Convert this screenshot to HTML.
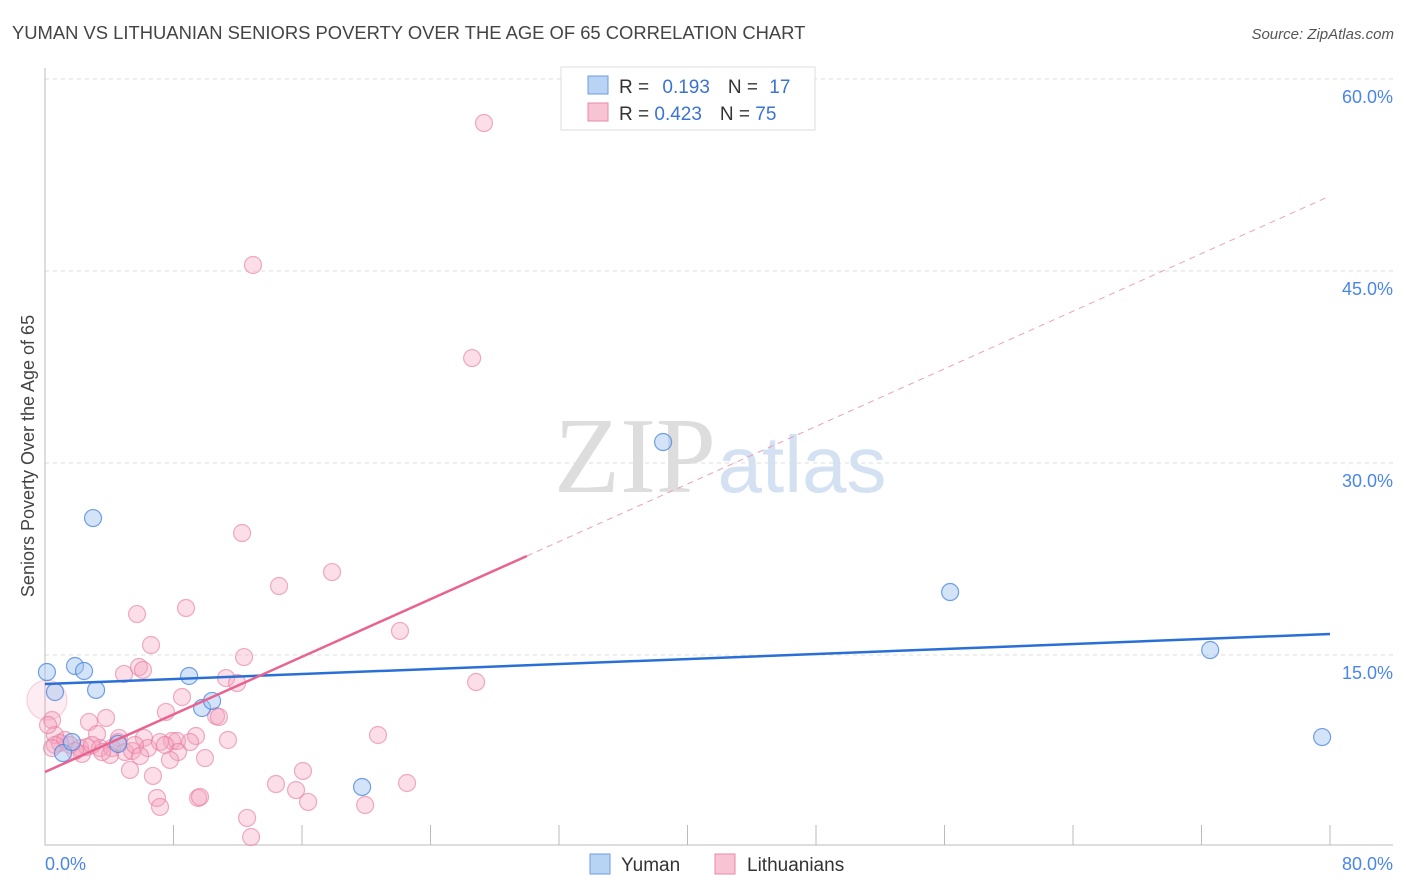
<!DOCTYPE html>
<html><head><meta charset="utf-8"><style>
body{margin:0;background:#fff;font-family:"Liberation Sans",sans-serif;}
svg{display:block}
</style></head><body>
<svg id="c" width="1406" height="892">
<text x="12" y="39" font-size="18.4" fill="#444">YUMAN VS LITHUANIAN SENIORS POVERTY OVER THE AGE OF 65 CORRELATION CHART</text>
<text x="1394" y="39" font-size="15" fill="#555" font-style="italic" text-anchor="end">Source: ZipAtlas.com</text>
<text x="635" y="492" font-size="108" fill="#ddd" font-family="Liberation Serif" text-anchor="middle">ZIP</text>
<text x="802" y="492" font-size="80" fill="#d3e1f3" text-anchor="middle">atlas</text>
<text transform="translate(34,456) rotate(-90)" font-size="18" fill="#444" text-anchor="middle">Seniors Poverty Over the Age of 65</text>
<g id="grid"></g><g id="marks"></g>
<g>
<rect x="561" y="67" width="254" height="63" fill="#fff" stroke="#ddd"/>
<rect x="588" y="76" width="20" height="18" fill="#b9d3f5" stroke="#6c9de0"/>
<rect x="588" y="103" width="20" height="18" fill="#f8c3d3" stroke="#e88aa8"/>
<text x="619" y="93" font-size="19" fill="#333">R = <tspan fill="#3b73d4" dx="8">0.193</tspan><tspan dx="18" fill="#333">N = </tspan><tspan fill="#3b73d4" dx="6">17</tspan></text>
<text x="619" y="120" font-size="19" fill="#333">R = <tspan fill="#3b73d4">0.423</tspan><tspan dx="18" fill="#333">N = </tspan><tspan fill="#3b73d4">75</tspan></text>
</g>
<g>
<rect x="590" y="854" width="20" height="20" fill="#b9d3f5" stroke="#6c9de0"/>
<text x="621" y="871" font-size="19" fill="#333">Yuman</text>
<rect x="715" y="854" width="20" height="20" fill="#f8c3d3" stroke="#e88aa8"/>
<text x="747" y="871" font-size="19" fill="#333">Lithuanians</text>
</g>
</svg>
<script>
const yTicks=[15,30,45,60];
const yTickLabels=["15.0%","30.0%","45.0%","60.0%"];
const xTickLabels=["0.0%","80.0%"];
const yumanX=[0.12,0.62,1.87,2.43,3.18,2.99,8.97,9.78,10.40,1.12,1.68,4.55,19.74,38.48,56.35,72.54,79.51];
const yumanY=[13.67,12.11,14.14,13.75,12.27,25.70,13.36,10.86,11.41,7.34,8.20,8.05,4.69,31.64,19.92,15.39,8.59];
const lithX=[27.33,12.95,26.59,12.27,17.87,14.57,5.73,8.78,6.60,22.10,12.39,5.85,6.10,4.92,11.27,11.96,26.84,8.53,7.53,10.65,10.83,3.80,2.74,0.44,0.12,0.62,3.24,4.61,6.16,9.40,7.91,8.22,9.03,11.39,20.73,1.25,1.56,2.18,2.62,3.42,4.17,4.98,6.41,8.28,5.42,4.05,9.96,7.78,2.30,0.93,1.87,5.29,6.72,16.06,22.54,14.38,15.63,6.97,9.53,9.65,16.38,19.93,7.16,12.58,12.83,0.62,4.55,5.60,7.16,7.47,2.93,3.55,0.19,0.44,5.92];
const lithY=[56.56,45.47,38.20,24.53,21.48,20.39,18.20,18.67,15.78,16.88,14.84,14.06,13.83,13.52,13.20,12.81,12.89,11.72,10.55,10.23,10.16,10.08,9.77,9.92,11.48,8.75,8.83,8.52,8.52,8.67,8.28,8.28,8.20,8.36,8.75,8.36,7.97,7.73,7.81,7.73,7.73,7.42,7.73,7.42,7.50,7.19,6.95,6.80,7.27,8.13,7.50,6.02,5.55,5.94,5.00,4.92,4.45,3.83,3.83,3.91,3.52,3.28,3.13,2.27,0.78,7.97,8.20,7.97,8.20,7.97,7.97,7.42,9.53,7.73,7.11];
const yumanTrend=[12.73,16.64];
const lithTrend=[5.86,50.86];
const NS="http://www.w3.org/2000/svg";
const X=v=>45+v/80*1285, Y=v=>847-v/15*192;
function mk(t,a,p){const e=document.createElementNS(NS,t);for(const k in a)e.setAttribute(k,a[k]);p.appendChild(e);return e;}
const g=document.getElementById('grid'), m=document.getElementById('marks');
yTicks.forEach((t,i)=>{
 const l=mk('line',{x1:45,x2:1393,y1:Y(t),y2:Y(t),stroke:'#ddd','stroke-dasharray':'4,4'},g);
 
 
 const tx=mk('text',{x:1393,y:Y(t)+24,'font-size':18,fill:'#4a86e8','text-anchor':'end'},g);
 tx.textContent=yTickLabels[i];
 
 
});
const ax=mk('path',{d:'M45,68V845H1393',fill:'none',stroke:'#bbb'},g);


for(let i=0;i<=10;i++){const t=mk('line',{x1:X(i*8),x2:X(i*8),y1:825,y2:845,stroke:'#bbb'},g);
 
 }
[[0,'start',45],[80,'end',1393]].forEach((d,i)=>{const t=mk('text',{x:d[2],y:870,'font-size':18,fill:'#4a86e8','text-anchor':d[1]},g);t.textContent=xTickLabels[i];
 
 });
lithX.forEach((x,i)=>{const big=i==24;const c=mk('circle',{cx:X(x),cy:Y(lithY[i]),r:big?20:8.5,fill:big?'rgba(244,160,188,0.2)':'rgba(244,160,188,0.35)',stroke:big?'rgba(230,120,155,0.3)':'rgba(230,120,155,0.6)','stroke-width':1.2},m);
 
 });
yumanX.forEach((x,i)=>{const c=mk('circle',{cx:X(x),cy:Y(yumanY[i]),r:8.5,fill:'rgba(160,196,240,0.45)',stroke:'rgba(70,130,220,0.75)','stroke-width':1.2},m);
 
 });
const bl=mk('line',{x1:X(0),y1:Y(yumanTrend[0]),x2:X(80),y2:Y(yumanTrend[1]),stroke:'#2a6fd6','stroke-width':2.5},m);


const lm=lithTrend[0]+(lithTrend[1]-lithTrend[0])*30/80;
const pl=mk('line',{x1:X(0),y1:Y(lithTrend[0]),x2:X(30),y2:Y(lm),stroke:'#e8638f','stroke-width':2.5},m);


const pd=mk('line',{x1:X(30),y1:Y(lm),x2:X(80),y2:Y(lithTrend[1]),stroke:'#eaa0b8','stroke-width':1,'stroke-dasharray':'6,5'},m);


</script>
</body></html>
